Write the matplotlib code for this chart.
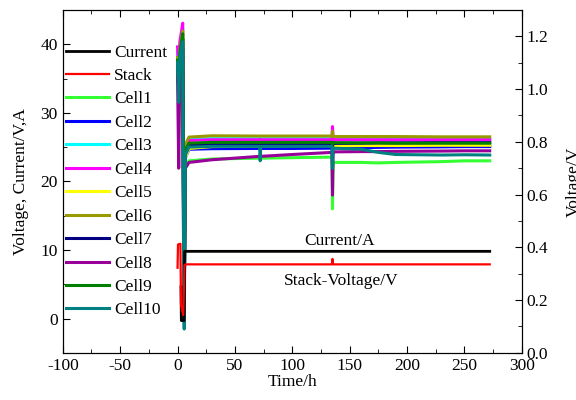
import matplotlib
matplotlib.use("Agg")
import matplotlib.pyplot as plt
from matplotlib.ticker import MultipleLocator

plt.rcParams['font.family'] = ['Liberation Serif', 'DejaVu Serif']
plt.rcParams['font.size'] = 12.5
plt.rcParams['axes.unicode_minus'] = False

# left axis series (V, A)
t_cur = [3.0, 3.3, 5.8, 6.1, 272]
current = [4.6, -0.3, -0.3, 9.8, 9.8]

t_stack = [0, 0.4, 2.5, 3.0, 5.0, 6.0, 7.0, 134.5, 135, 135.5, 272]
stack = [7.4, 10.8, 10.9, 2.0, 0.5, 7.8, 7.9, 7.9, 8.7, 7.9, 7.9]

# right axis series (cell voltages, V)
t_cell = [0, 1, 2, 3.5, 4.5, 5.2, 5.8, 6.8, 10, 30, 71.5, 72, 72.5, 100,
          134.5, 135, 135.5, 136, 160, 175, 190, 230, 250, 272]
cells = {
    'Cell1': [1.10, 1.02, 1.12, 1.18, 1.20, 0.55, 0.20, 0.70, 0.728, 0.735, 0.738, 0.736, 0.738, 0.740,
              0.742, 0.546, 0.700, 0.722, 0.722, 0.720, 0.722, 0.725, 0.728, 0.728],
    'Cell2': [1.08, 1.00, 1.10, 1.15, 1.17, 0.50, 0.15, 0.74, 0.772, 0.774, 0.775, 0.774, 0.775, 0.775,
              0.776, 0.760, 0.776, 0.777, 0.778, 0.779, 0.780, 0.781, 0.782, 0.782],
    'Cell3': [1.14, 1.05, 1.16, 1.20, 1.23, 0.60, 0.22, 0.78, 0.808, 0.812, 0.812, 0.810, 0.812, 0.812,
              0.812, 0.800, 0.811, 0.811, 0.812, 0.811, 0.812, 0.812, 0.811, 0.812],
    'Cell4': [1.16, 1.06, 1.18, 1.22, 1.25, 0.62, 0.25, 0.77, 0.805, 0.808, 0.808, 0.806, 0.808, 0.808,
              0.808, 0.858, 0.808, 0.808, 0.808, 0.808, 0.808, 0.808, 0.808, 0.808],
    'Cell5': [1.10, 0.99, 1.13, 1.17, 1.21, 0.58, 0.20, 0.74, 0.775, 0.782, 0.784, 0.783, 0.784, 0.785,
              0.786, 0.780, 0.785, 0.785, 0.786, 0.786, 0.786, 0.787, 0.787, 0.787],
    'Cell6': [1.12, 1.04, 1.15, 1.19, 1.22, 0.65, 0.25, 0.79, 0.818, 0.823, 0.822, 0.822, 0.822, 0.822,
              0.822, 0.840, 0.821, 0.820, 0.820, 0.820, 0.820, 0.819, 0.819, 0.819],
    'Cell7': [1.09, 1.00, 1.11, 1.16, 1.19, 0.55, 0.18, 0.76, 0.788, 0.790, 0.791, 0.790, 0.791, 0.792,
              0.792, 0.780, 0.793, 0.794, 0.795, 0.796, 0.796, 0.797, 0.797, 0.797],
    'Cell8': [1.05, 0.70, 1.08, 1.12, 1.15, 0.45, 0.17, 0.70, 0.722, 0.732, 0.745, 0.744, 0.745, 0.752,
              0.760, 0.598, 0.760, 0.762, 0.763, 0.763, 0.764, 0.765, 0.766, 0.766],
    'Cell9': [1.11, 1.03, 1.14, 1.18, 1.21, 0.60, 0.20, 0.77, 0.795, 0.798, 0.798, 0.797, 0.798, 0.798,
              0.798, 0.790, 0.797, 0.797, 0.796, 0.796, 0.795, 0.795, 0.795, 0.795],
    'Cell10': [1.10, 0.95, 1.12, 1.16, 1.18, 0.40, 0.09, 0.75, 0.780, 0.783, 0.783, 0.728, 0.783, 0.783,
               0.783, 0.700, 0.776, 0.776, 0.772, 0.760, 0.752, 0.750, 0.751, 0.750],
}
cell_colors = ['#33ff33', '#0000ff', '#00ffff', '#ff00ff', '#ffff00',
               '#999900', '#000080', '#990099', '#008000', '#008080']

fig = plt.figure(figsize=(5.76, 4.0), dpi=100)
ax = fig.add_axes([0.109, 0.118, 0.797, 0.857])
ax2 = ax.twinx()

ax.plot(t_cur, current, color='black', lw=2.0, label='Current', zorder=3)
ax.plot(t_stack, stack, color='red', lw=1.6, label='Stack', zorder=3)

handles = []
for (name, vals), c in zip(cells.items(), cell_colors):
    h, = ax2.plot(t_cell, vals, color=c, lw=2.2, label=name)
    handles.append(h)

ax.set_xlim(-100, 300)
ax.set_ylim(-5, 45)
ax2.set_ylim(0, 1.3)

ax.xaxis.set_major_locator(MultipleLocator(50))
ax.xaxis.set_minor_locator(MultipleLocator(25))
ax.yaxis.set_major_locator(MultipleLocator(10))
ax.yaxis.set_minor_locator(MultipleLocator(5))
ax2.yaxis.set_major_locator(MultipleLocator(0.2))
ax2.yaxis.set_minor_locator(MultipleLocator(0.1))
ax2.yaxis.set_major_formatter(plt.FormatStrFormatter('%.1f'))

ax.tick_params(which='both', direction='in', top=True, right=False)
ax.tick_params(which='major', length=5)
ax.tick_params(which='minor', length=3)
ax2.tick_params(which='both', direction='in')
ax2.tick_params(which='major', length=5)
ax2.tick_params(which='minor', length=3)

ax.set_xlabel('Time/h', labelpad=0)
ax.set_ylabel('Voltage, Current/V,A', labelpad=8)
fig.text(0.996, 0.545, 'Voltage/V', rotation=90, ha='center', va='center')

ax.text(141, 10.2, 'Current/A', ha='center', va='bottom')
ax.text(143, 6.6, 'Stack-Voltage/V', ha='center', va='top')

h1, l1 = ax.get_legend_handles_labels()
leg = ax.legend(h1 + handles, l1 + list(cells.keys()), loc='upper left',
                bbox_to_anchor=(-0.02, 0.935), frameon=False, handlelength=2.5,
                labelspacing=0.42, handletextpad=0.3, borderpad=0.2)
ax.set_zorder(ax2.get_zorder() + 1)
ax.patch.set_visible(False)

fig.savefig('out.png', dpi=100)
